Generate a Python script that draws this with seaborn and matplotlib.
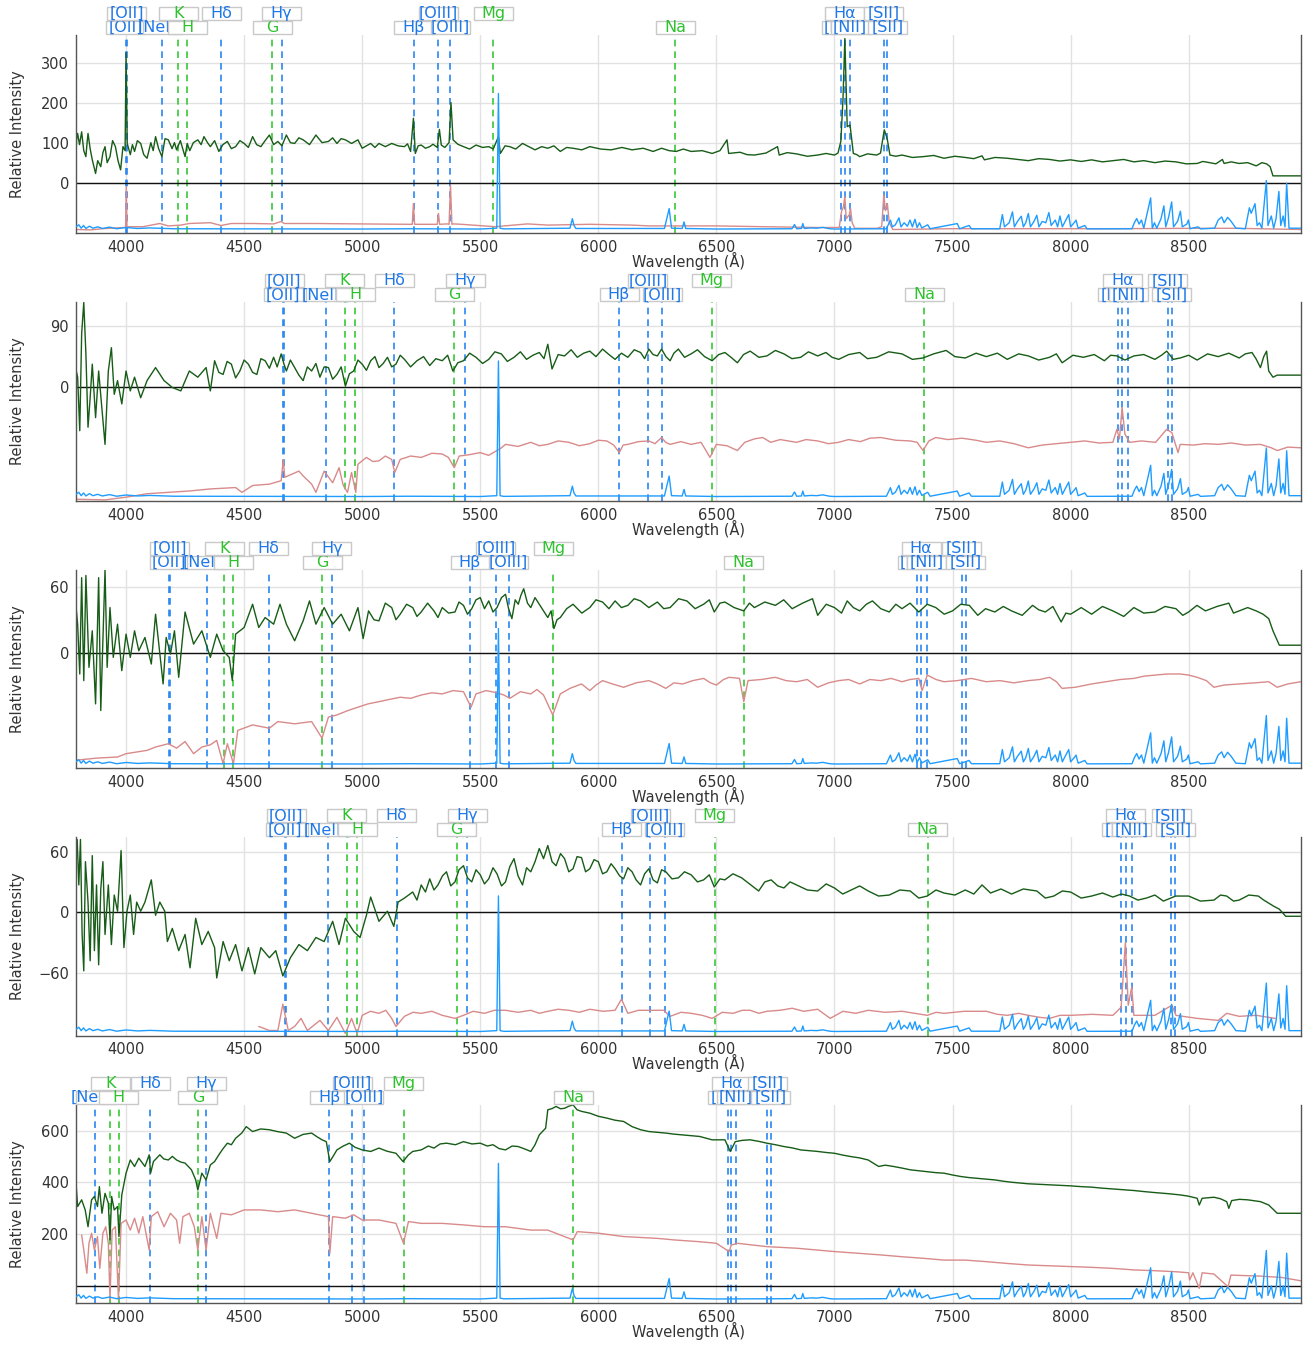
import numpy as np
import pandas as pd
import matplotlib
matplotlib.use("Agg")
import matplotlib.pyplot as plt
import matplotlib.transforms as mtransforms
from matplotlib.patches import Rectangle
import seaborn as sns

# --- line list (rest wavelength, label, emission/absorption, label row 0=low 1=high)
LINE_NAMES = ["[OII]", "[OII]", "[NeIII]", "K", "H", "Hδ", "G", "Hγ", "Hβ", "[OIII]", "[OIII]",
              "Mg", "Na", "[NII]", "Hα", "[NII]", "[SII]", "[SII]"]
LINE_REST = [3726.03, 3728.82, 3868.76, 3933.66, 3968.47, 4101.74, 4304.4, 4340.47, 4861.33,
             4958.91, 5006.84, 5175.3, 5894.0, 6548.05, 6562.8, 6583.45, 6716.44, 6730.82]
LINE_KIND = ["em", "em", "em", "abs", "abs", "em", "abs", "em", "em", "em", "em",
             "abs", "abs", "em", "em", "em", "em", "em"]
LINE_ROW = [0, 1, 0, 1, 0, 1, 0, 1, 0, 1, 0, 1, 0, 0, 1, 0, 1, 0]

REDSHIFTS = [0.0733, 0.2523, 0.1225, 0.2545, 0.0]
YLIMS = [(-126, 369), (-165, 124), (-104, 75), (-122, 74), (-67, 699)]
YTICKS = [[0, 100, 200, 300], [0, 90], [0, 60], [-60, 0, 60], [200, 400, 600]]
XTICKS = [4000, 4500, 5000, 5500, 6000, 6500, 7000, 7500, 8000, 8500]

P1_GREEN = [(3786,48),(3791,110),(3795,123),(3803,95),(3812,127),(3821,80),(3830,65),(3835,100),(3839,123),
    (3848,85),(3857,57),(3864,40),(3871,23),(3880,55),(3893,40),(3902,75),(3911,90),(3920,50),(3932,65),
    (3943,105),(3955,90),(3966,55),(3977,32),(3987,90),(3996,80),(4000,325),(4005,98),(4018,70),(4027,95),
    (4036,78),(4048,105),(4062,98),(4075,70),(4089,61),(4105,100),(4115,80),(4125,115),(4138,85),(4152,65),
    (4165,110),(4179,107),(4195,85),(4205,100),(4214,82),(4230,105),(4250,65),(4259,98),(4270,80),(4285,100),
    (4304,107),(4318,95),(4330,115),(4345,100),(4357,90),(4375,105),(4393,78),(4410,95),(4429,103),(4446,85),
    (4464,90),(4482,105),(4500,98),(4518,88),(4536,115),(4553,95),(4571,90),(4589,105),(4607,119),(4625,95),
    (4643,103),(4660,92),(4679,119),(4696,100),(4714,98),(4732,112),(4750,107),(4777,95),(4804,119),
    (4830,100),(4857,103),(4875,112),(4893,98),(4911,110),(4929,107),(4955,98),(4982,107),(5000,86),
    (5018,92),(5036,98),(5054,88),(5071,98),(5098,90),(5125,98),(5152,92),(5179,90),(5192,97),(5205,78),
    (5217,161),(5225,73),(5237,92),(5250,94),(5268,86),(5286,90),(5300,96),(5318,88),(5327,133),(5335,94),
    (5350,88),(5368,100),(5376,200),(5385,107),(5405,96),(5429,90),(5455,84),(5482,94),(5510,88),(5536,90),
    (5555,84),(5577,115),(5585,73),(5605,92),(5625,90),(5650,84),(5679,98),(5705,90),(5732,82),(5760,90),
    (5786,86),(5812,92),(5839,78),(5866,88),(5893,86),(5930,82),(5964,90),(6010,84),(6054,82),(6100,88),
    (6143,82),(6190,86),(6232,78),(6268,86),(6300,80),(6330,78),(6360,84),(6393,78),(6440,80),(6482,73),
    (6515,80),(6545,107),(6552,73),(6600,76),(6630,70),(6661,69),(6710,74),(6759,90),(6766,69),(6800,75),
    (6839,72),(6885,66),(6929,69),(6965,73),(7000,69),(7015,74),(7027,103),(7036,207),(7044,360),(7054,140),
    (7066,144),(7080,73),(7095,70),(7107,65),(7140,72),(7179,69),(7195,74),(7211,132),(7223,111),(7235,69),
    (7260,66),(7286,69),(7330,63),(7375,65),(7420,68),(7464,61),(7510,66),(7554,63),(7590,60),(7625,67),
    (7635,57),(7680,63),(7732,61),(7775,58),(7821,55),(7865,60),(7911,58),(7955,54),(8000,57),(8045,53),
    (8089,57),(8135,52),(8179,55),(8225,58),(8268,52),(8310,55),(8357,50),(8400,54),(8446,52),(8490,47),
    (8536,48),(8560,53),(8589,50),(8615,47),(8643,58),(8650,48),(8680,52),(8714,48),(8750,50),(8786,42),
    (8810,50),(8830,47),(8845,40),(8857,17),(8975,17)]
P1_RED = [(3786,-117),(3850,-118),(3900,-115),(3990,-112),(3998,-112),(4001,-10),(4004,-112),(4010,-110),
    (4071,-110),(4143,-102),(4179,-108),(4232,-106),(4268,-102),(4357,-100),(4402,-107),(4446,-102),
    (4536,-102),(4625,-103),(4657,-97),(4670,-102),(4800,-102),(4982,-103),(5200,-104),(5212,-104),
    (5217,-52),(5222,-104),(5240,-104),(5318,-104),(5323,-77),(5328,-104),(5360,-103),(5368,-104),
    (5374,-6),(5380,-104),(5386,-103),(5420,-104),(5563,-110),(5700,-103),(5786,-106),(5964,-104),
    (6143,-106),(6214,-108),(6500,-108),(6700,-110),(6929,-112),(7020,-112),(7030,-72),(7038,-60),
    (7044,-35),(7050,-90),(7063,-80),(7068,-64),(7075,-100),(7086,-114),(7180,-114),(7200,-110),
    (7209,-31),(7216,-70),(7224,-52),(7232,-100),(7247,-117),(7500,-115),(7800,-115),(8179,-115),
    (8536,-114),(8700,-114),(8975,-117)]

P2_GREEN = [(3786,29),(3795,15),(3804,-63),(3812,78),(3821,124),(3830,49),(3839,-58),(3848,-15),(3857,34),
    (3871,-44),(3884,24),(3896,-24),(3911,-83),(3925,24),(3938,58),(3950,-10),(3964,10),(3982,-24),(4000,24),
    (4018,-5),(4036,15),(4062,-15),(4089,10),(4125,29),(4161,10),(4196,0),(4232,-5),(4268,24),(4304,15),
    (4339,29),(4357,-5),(4375,39),(4393,22),(4411,19),(4428,38),(4446,34),(4464,14),(4482,24),(4500,40),
    (4518,34),(4536,22),(4554,19),(4571,42),(4589,39),(4607,28),(4625,44),(4640,30),(4657,49),(4668,35),
    (4679,24),(4696,40),(4714,29),(4732,18),(4750,10),(4768,30),(4786,24),(4804,35),(4821,15),(4839,30),
    (4857,29),(4875,12),(4893,19),(4911,30),(4929,2),(4946,20),(4964,24),(4982,40),(5000,34),(5018,25),
    (5036,39),(5054,45),(5071,29),(5089,35),(5107,44),(5125,30),(5143,34),(5161,47),(5179,41),(5205,30),
    (5232,39),(5260,45),(5286,32),(5312,42),(5339,39),(5362,47),(5384,24),(5405,36),(5429,39),(5455,50),
    (5482,44),(5510,35),(5536,41),(5562,52),(5589,49),(5615,38),(5643,44),(5670,52),(5696,41),(5723,47),
    (5750,51),(5770,42),(5786,63),(5804,27),(5830,48),(5857,46),(5885,55),(5911,44),(5938,50),(5964,53),
    (5990,45),(6018,56),(6045,48),(6071,41),(6098,50),(6125,44),(6152,55),(6179,51),(6196,42),(6214,56),
    (6232,48),(6250,46),(6268,56),(6286,45),(6304,39),(6320,50),(6339,56),(6365,44),(6393,49),(6420,55),
    (6450,45),(6482,39),(6510,48),(6536,51),(6562,44),(6589,36),(6615,48),(6643,53),(6680,44),(6714,46),
    (6750,54),(6786,49),(6820,42),(6857,44),(6890,52),(6929,46),(6964,51),(6990,44),(7018,41),(7060,48),
    (7107,51),(7140,42),(7179,44),(7230,52),(7286,49),(7330,41),(7375,43),(7420,49),(7473,54),(7510,45),
    (7554,43),(7600,50),(7643,45),(7690,50),(7732,41),(7780,49),(7821,46),(7865,40),(7911,44),(7940,49),
    (7964,36),(8010,47),(8054,44),(8100,48),(8143,39),(8170,47),(8196,46),(8230,40),(8268,46),(8310,48),
    (8357,41),(8385,47),(8407,53),(8435,41),(8464,43),(8500,47),(8536,40),(8580,49),(8625,45),(8670,50),
    (8714,43),(8740,49),(8768,51),(8785,42),(8804,29),(8818,45),(8830,53),(8839,24),(8857,15),(8875,18),
    (8975,18)]
P2_RED = [(3786,-163),(3911,-164),(4000,-160),(4089,-155),(4179,-153),(4268,-151),(4357,-148),(4464,-146),
    (4491,-153),(4536,-143),(4607,-141),(4657,-136),(4666,-105),(4672,-131),(4732,-122),(4750,-129),
    (4786,-141),(4804,-153),(4839,-122),(4875,-139),(4902,-117),(4920,-143),(4938,-153),(4955,-124),
    (4973,-153),(4982,-112),(5018,-102),(5045,-108),(5071,-107),(5098,-100),(5125,-105),(5138,-124),
    (5161,-105),(5205,-100),(5250,-102),(5295,-96),(5339,-97),(5365,-102),(5390,-117),(5411,-100),
    (5455,-98),(5500,-95),(5535,-99),(5571,-92),(5590,-88),(5607,-83),(5660,-86),(5714,-80),(5750,-85),
    (5786,-83),(5830,-78),(5875,-80),(5920,-85),(5964,-82),(6000,-77),(6036,-78),(6065,-84),(6089,-95),
    (6105,-84),(6125,-83),(6170,-79),(6214,-78),(6240,-82),(6268,-73),(6285,-80),(6304,-83),(6350,-79),
    (6393,-83),(6435,-80),(6473,-102),(6500,-83),(6545,-85),(6589,-92),(6620,-80),(6661,-75),(6696,-73),
    (6730,-80),(6770,-76),(6839,-80),(6880,-76),(6929,-78),(6975,-82),(7018,-80),(7060,-76),(7110,-79),
    (7150,-74),(7196,-73),(7260,-77),(7321,-78),(7350,-80),(7375,-92),(7400,-78),(7429,-73),(7480,-76),
    (7540,-74),(7600,-77),(7643,-80),(7700,-78),(7760,-82),(7821,-88),(7880,-84),(7940,-82),(8000,-80),
    (8060,-78),(8120,-81),(8179,-80),(8196,-61),(8207,-75),(8218,-29),(8230,-68),(8250,-80),(8300,-78),
    (8360,-80),(8407,-61),(8429,-66),(8455,-95),(8464,-83),(8520,-84),(8570,-82),(8625,-83),(8680,-81),
    (8740,-84),(8804,-83),(8850,-88),(8875,-92),(8920,-87),(8975,-88)]

P3_GREEN = [(3786,47),(3795,26),(3804,-19),(3812,68),(3821,-25),(3830,70),(3843,-13),(3857,20),(3871,-46),
    (3884,68),(3893,-52),(3911,75),(3920,-13),(3932,41),(3946,-4),(3964,26),(3982,-16),(4000,17),(4018,-4),
    (4036,20),(4054,2),(4080,14),(4107,-10),(4125,35),(4157,-28),(4170,14),(4188,-1),(4205,20),(4223,-22),
    (4250,37),(4286,8),(4321,20),(4357,-4),(4384,17),(4411,2),(4437,-4),(4450,-25),(4464,17),(4500,23),
    (4536,44),(4562,23),(4589,32),(4625,26),(4652,44),(4679,26),(4714,11),(4750,29),(4777,47),(4804,26),
    (4839,41),(4875,26),(4911,35),(4946,20),(4982,41),(5004,13),(5027,38),(5050,30),(5071,29),(5098,45),
    (5125,41),(5143,30),(5161,35),(5188,44),(5214,41),(5232,33),(5250,37),(5277,45),(5304,38),(5321,32),
    (5339,41),(5366,36),(5393,37),(5410,46),(5429,43),(5446,35),(5464,40),(5482,48),(5500,50),(5518,40),
    (5536,47),(5554,37),(5571,41),(5590,50),(5607,53),(5620,40),(5634,31),(5648,48),(5661,44),(5672,52),
    (5684,58),(5700,45),(5714,41),(5732,50),(5750,44),(5768,38),(5786,32),(5800,38),(5812,22),(5825,30),
    (5839,32),(5866,40),(5893,44),(5930,36),(5964,41),(5990,48),(6018,46),(6045,40),(6071,47),(6098,41),
    (6125,43),(6152,49),(6179,47),(6214,41),(6250,46),(6277,40),(6304,41),(6340,49),(6375,47),(6410,40),
    (6446,44),(6470,48),(6491,37),(6515,45),(6536,46),(6575,41),(6616,38),(6640,45),(6661,41),(6705,46),
    (6750,43),(6785,48),(6821,40),(6865,45),(6907,49),(6929,34),(6965,44),(7000,41),(7030,36),(7054,47),
    (7080,41),(7107,38),(7135,44),(7161,47),(7196,40),(7232,37),(7260,44),(7286,40),(7320,45),(7357,37),
    (7393,44),(7429,41),(7465,35),(7500,38),(7535,44),(7571,43),(7607,34),(7640,40),(7679,37),(7715,42),
    (7750,38),(7795,34),(7839,43),(7865,39),(7893,37),(7925,42),(7960,28),(7980,36),(8000,35),(8045,41),
    (8089,35),(8135,42),(8179,38),(8225,33),(8268,41),(8310,36),(8357,37),(8400,42),(8446,40),(8475,34),
    (8500,37),(8535,43),(8571,38),(8620,42),(8670,45),(8690,36),(8714,38),(8750,41),(8786,38),(8815,35),
    (8839,31),(8857,20),(8884,7),(8975,7)]
P3_RED = [(3786,-97),(3875,-95),(3964,-94),(4000,-91),(4089,-88),(4125,-85),(4179,-82),(4214,-86),(4250,-80),
    (4286,-91),(4321,-85),(4357,-83),(4384,-79),(4411,-100),(4429,-82),(4455,-100),(4473,-70),(4536,-65),
    (4607,-68),(4643,-62),(4714,-64),(4786,-62),(4830,-77),(4857,-58),(4893,-56),(4940,-52),(4982,-49),
    (5025,-46),(5071,-44),(5115,-42),(5161,-40),(5205,-41),(5250,-38),(5295,-36),(5339,-37),(5385,-34),
    (5429,-35),(5461,-49),(5482,-37),(5525,-34),(5571,-36),(5600,-38),(5625,-41),(5670,-35),(5714,-37),
    (5740,-33),(5768,-38),(5807,-56),(5839,-37),(5880,-32),(5929,-28),(5964,-34),(5990,-29),(6018,-25),
    (6060,-28),(6107,-31),(6160,-27),(6214,-25),(6250,-28),(6286,-32),(6320,-27),(6357,-28),(6400,-25),
    (6446,-23),(6475,-27),(6500,-29),(6530,-24),(6554,-22),(6598,-23),(6616,-44),(6634,-25),(6690,-24),
    (6750,-22),(6795,-25),(6839,-26),(6885,-24),(6929,-31),(6975,-27),(7018,-25),(7060,-24),(7107,-28),
    (7150,-24),(7196,-25),(7240,-23),(7286,-26),(7320,-24),(7357,-23),(7371,-34),(7393,-20),(7430,-24),
    (7464,-26),(7520,-25),(7580,-23),(7643,-26),(7700,-25),(7760,-27),(7821,-25),(7870,-24),(7911,-22),
    (7940,-26),(7964,-32),(8020,-31),(8089,-28),(8150,-26),(8210,-24),(8268,-23),(8310,-21),(8357,-20),
    (8410,-19),(8464,-19),(8500,-20),(8536,-22),(8575,-25),(8607,-31),(8650,-29),(8714,-28),(8780,-27),
    (8839,-26),(8875,-31),(8920,-28),(8975,-26)]

P4_GREEN = [(3786,66),(3793,72),(3800,27),(3807,72),(3814,-22),(3821,-58),(3828,50),(3839,10),(3848,-48),
    (3857,56),(3866,-38),(3875,27),(3884,-52),(3893,23),(3902,50),(3911,-22),(3925,27),(3938,-32),(3950,17),
    (3964,1),(3979,61),(3991,-35),(4004,1),(4018,17),(4032,-22),(4045,10),(4062,1),(4080,10),(4107,32),
    (4125,-3),(4143,10),(4164,1),(4175,-29),(4196,-16),(4223,-38),(4250,-22),(4271,-55),(4295,-6),(4321,-32),
    (4348,-19),(4375,-35),(4384,-65),(4411,-29),(4437,-48),(4464,-32),(4491,-58),(4518,-35),(4545,-61),
    (4571,-35),(4607,-45),(4634,-38),(4664,-63),(4696,-45),(4732,-32),(4768,-38),(4804,-25),(4839,-29),
    (4875,-9),(4902,-32),(4929,-6),(4964,-19),(4991,-25),(5018,-3),(5036,15),(5071,-9),(5107,1),(5134,-14),
    (5152,10),(5179,14),(5214,20),(5232,12),(5250,27),(5268,20),(5286,33),(5304,22),(5321,27),(5340,36),
    (5357,40),(5375,26),(5393,30),(5410,42),(5429,46),(5446,34),(5464,30),(5482,42),(5500,37),(5518,28),
    (5536,33),(5554,44),(5571,38),(5590,26),(5607,30),(5625,45),(5643,53),(5660,36),(5679,27),(5696,44),
    (5714,40),(5732,50),(5750,63),(5768,53),(5786,66),(5804,50),(5821,46),(5840,58),(5857,53),(5875,40),
    (5893,43),(5910,55),(5929,54),(5946,40),(5964,43),(5982,52),(6000,50),(6018,38),(6036,40),(6054,48),
    (6071,43),(6090,36),(6107,33),(6125,44),(6143,40),(6160,32),(6179,27),(6196,38),(6214,43),(6232,32),
    (6250,29),(6268,42),(6286,40),(6312,33),(6339,34),(6365,40),(6393,37),(6420,30),(6446,32),(6470,37),
    (6491,25),(6515,33),(6536,32),(6570,38),(6607,34),(6640,28),(6679,21),(6705,30),(6732,32),(6760,26),
    (6786,24),(6812,30),(6839,27),(6885,22),(6929,21),(6965,28),(7000,24),(7035,18),(7071,22),(7107,26),
    (7143,21),(7187,16),(7232,17),(7277,22),(7321,21),(7357,14),(7393,16),(7430,22),(7464,19),(7510,17),
    (7554,22),(7590,18),(7625,27),(7661,19),(7705,23),(7750,18),(7800,23),(7857,21),(7893,14),(7929,16),
    (7965,21),(8000,20),(8045,14),(8089,16),(8135,19),(8179,15),(8215,18),(8250,16),(8285,12),(8321,14),
    (8357,17),(8393,11),(8445,16),(8500,16),(8550,11),(8607,12),(8635,17),(8661,16),(8690,11),(8714,12),
    (8755,17),(8795,16),(8818,12),(8839,9),(8860,6),(8884,3),(8911,-4),(8975,-4)]
P4_RED = [(4562,-113),(4607,-117),(4643,-117),(4664,-91),(4687,-117),(4714,-113),(4741,-105),(4768,-117),
    (4821,-107),(4857,-117),(4893,-104),(4929,-120),(4955,-105),(4979,-120),(5000,-102),(5035,-98),
    (5071,-100),(5100,-97),(5125,-105),(5143,-113),(5179,-103),(5215,-99),(5250,-100),(5295,-98),
    (5339,-102),(5393,-105),(5429,-102),(5470,-98),(5518,-100),(5560,-97),(5607,-97),(5660,-99),(5714,-97),
    (5750,-100),(5786,-98),(5830,-96),(5875,-97),(5920,-99),(5964,-96),(6020,-98),(6071,-97),(6098,-86),
    (6125,-100),(6170,-97),(6214,-97),(6277,-97),(6304,-103),(6350,-99),(6393,-100),(6440,-102),
    (6482,-105),(6525,-99),(6571,-100),(6610,-97),(6643,-97),(6680,-100),(6714,-98),(6770,-97),(6821,-95),
    (6870,-98),(6929,-96),(6982,-105),(7036,-98),(7090,-100),(7143,-97),(7215,-99),(7286,-98),(7340,-100),
    (7393,-102),(7430,-99),(7464,-100),(7550,-98),(7643,-98),(7690,-101),(7732,-102),(7780,-100),
    (7821,-102),(7870,-104),(7911,-105),(7955,-102),(8000,-102),(8090,-101),(8179,-102),(8214,-94),
    (8232,-30),(8244,-92),(8259,-74),(8268,-102),(8357,-102),(8429,-92),(8446,-102),(8536,-105),
    (8625,-107),(8661,-100),(8714,-103),(8786,-102),(8866,-105)]

P5_GREEN = [(3786,428),(3795,306),(3812,332),(3827,293),(3839,228),(3854,332),(3866,345),(3879,306),
    (3887,383),(3898,280),(3911,357),(3925,319),(3932,177),(3939,345),(3950,293),(3964,306),(3970,190),
    (3982,351),(4000,435),(4018,486),(4036,461),(4054,493),(4080,461),(4098,506),(4104,435),(4116,480),
    (4143,506),(4160,490),(4179,486),(4196,500),(4214,486),(4232,478),(4250,474),(4277,448),(4295,409),
    (4304,370),(4321,435),(4339,409),(4357,467),(4375,480),(4393,506),(4411,530),(4429,551),(4446,545),
    (4464,570),(4490,590),(4509,615),(4536,596),(4570,606),(4607,603),(4640,596),(4679,590),(4714,570),
    (4750,585),(4786,590),(4810,575),(4830,564),(4848,557),(4863,480),(4880,505),(4893,525),(4920,540),
    (4946,551),(4970,535),(5000,525),(5036,519),(5071,532),(5105,520),(5143,512),(5173,480),(5195,505),
    (5214,519),(5250,525),(5280,540),(5304,532),(5330,548),(5357,551),(5395,545),(5429,557),(5465,548),
    (5500,551),(5530,540),(5554,545),(5580,530),(5607,525),(5635,540),(5661,538),(5690,528),(5714,519),
    (5732,545),(5750,583),(5777,609),(5786,680),(5805,685),(5821,693),(5840,684),(5857,686),(5875,694),
    (5893,699),(5910,680),(5929,674),(5964,667),(6000,655),(6036,648),(6070,640),(6107,635),(6143,615),
    (6179,603),(6214,596),(6250,593),(6286,590),(6320,586),(6357,583),(6390,580),(6429,577),(6482,564),
    (6536,564),(6559,519),(6580,557),(6610,562),(6643,564),(6680,558),(6714,551),(6750,545),(6786,538),
    (6820,533),(6857,525),(6895,522),(6929,519),(6965,515),(7000,512),(7035,505),(7071,499),(7107,494),
    (7143,486),(7187,461),(7215,466),(7250,461),(7290,454),(7321,448),(7360,444),(7393,441),(7430,437),
    (7464,435),(7500,428),(7536,422),(7570,418),(7607,415),(7640,412),(7679,409),(7715,404),(7750,400),
    (7785,397),(7821,394),(7870,392),(7911,390),(7955,388),(8000,386),(8045,383),(8089,381),(8135,377),
    (8179,374),(8225,371),(8268,368),(8310,364),(8357,360),(8410,356),(8464,351),(8500,346),(8536,338),
    (8545,312),(8557,338),(8607,342),(8635,336),(8661,325),(8670,299),(8682,329),(8715,334),(8750,332),
    (8780,328),(8804,325),(8839,312),(8875,280),(8975,280)]
P5_RED = [(3812,196),(3821,138),(3834,48),(3843,164),(3854,203),(3866,138),(3879,190),(3889,67),(3902,203),
    (3914,228),(3925,164),(3932,-55),(3941,215),(3955,228),(3968,-55),(3979,241),(4000,254),(4018,215),
    (4036,261),(4054,203),(4071,267),(4098,138),(4107,267),(4134,286),(4161,228),(4188,280),(4214,254),
    (4227,164),(4241,267),(4268,280),(4289,228),(4304,138),(4321,267),(4339,138),(4357,280),(4384,183),
    (4402,280),(4446,274),(4500,293),(4571,293),(4643,286),(4714,293),(4786,280),(4857,267),(4863,125),
    (4875,267),(4929,261),(4964,274),(5000,254),(5071,254),(5143,241),(5175,164),(5196,248),(5250,241),
    (5339,241),(5429,235),(5518,228),(5607,228),(5714,215),(5786,215),(5893,177),(5911,209),(6000,203),
    (6107,190),(6250,183),(6321,177),(6429,170),(6500,164),(6554,132),(6563,157),(6589,164),(6714,151),
    (6839,145),(7000,132),(7107,125),(7196,119),(7286,112),(7375,106),(7464,99),(7554,99),(7643,93),
    (7732,86),(7821,80),(8000,74),(8089,71),(8179,67),(8268,61),(8357,58),(8446,54),(8500,50),(8504,22),
    (8518,50),(8545,-10),(8557,50),(8607,45),(8667,-4),(8679,41),(8804,37),(8893,32),(8975,19)]

# sky spectrum (same observed frame in every panel), normalised to the 5577 line
SKY = [(3788,0.02),(3800,0.035),(3810,0.01),(3820,0.03),(3830,0.008),(3845,0.025),(3860,0.01),(3880,0.02),
    (3900,0.008),(3930,0.018),(3960,0.006),(4000,0.015),(4050,0.008),(4100,0.012),(4200,0.006),(4500,0.005),
    (5000,0.004),(5200,0.006),(5500,0.004),(5570,0.01),(5577,1.0),(5584,0.01),(5600,0.005),(5880,0.01),
    (5890,0.08),(5897,0.03),(5905,0.008),(6280,0.008),(6300,0.154),(6310,0.01),(6355,0.008),(6363,0.056),
    (6370,0.008),(6500,0.004),(6820,0.006),(6831,0.037),(6840,0.006),(6860,0.008),(6866,0.044),(6872,0.008),
    (6900,0.012),(6925,0.01),(6950,0.016),(6980,0.006),(7000,0.004),(7220,0.006),(7237,0.069),(7245,0.02),
    (7258,0.035),(7273,0.086),(7282,0.02),(7295,0.05),(7309,0.025),(7320,0.07),(7330,0.02),(7341,0.076),
    (7350,0.015),(7360,0.05),(7370,0.012),(7395,0.035),(7405,0.006),(7520,0.044),(7530,0.006),(7570,0.03),
    (7580,0.006),(7700,0.006),(7711,0.11),(7720,0.02),(7740,0.05),(7754,0.13),(7762,0.02),(7775,0.06),
    (7791,0.098),(7800,0.02),(7810,0.05),(7821,0.118),(7830,0.02),(7845,0.06),(7857,0.105),(7866,0.02),
    (7880,0.06),(7895,0.05),(7908,0.125),(7918,0.03),(7935,0.07),(7945,0.02),(7955,0.1),(7965,0.02),
    (7980,0.07),(7992,0.11),(8000,0.02),(8015,0.05),(8023,0.069),(8032,0.01),(8060,0.03),(8070,0.005),
    (8260,0.006),(8270,0.05),(8280,0.081),(8290,0.04),(8300,0.07),(8310,0.01),(8339,0.233),(8346,0.01),
    (8355,0.05),(8365,0.01),(8383,0.08),(8395,0.174),(8403,0.02),(8415,0.09),(8428,0.203),(8436,0.02),
    (8453,0.06),(8465,0.135),(8473,0.02),(8492,0.04),(8499,0.07),(8506,0.006),(8540,0.02),(8550,0.005),
    (8610,0.01),(8625,0.07),(8640,0.093),(8650,0.05),(8665,0.09),(8680,0.06),(8700,0.01),(8740,0.006),
    (8757,0.16),(8765,0.12),(8781,0.19),(8790,0.03),(8800,0.05),(8810,0.01),(8829,0.36),(8836,0.03),
    (8850,0.1),(8860,0.01),(8870,0.08),(8882,0.28),(8890,0.03),(8900,0.1),(8908,0.02),(8915,0.34),
    (8925,0.01),(8975,0.01)]

GREENS = [P1_GREEN, P2_GREEN, P3_GREEN, P4_GREEN, P5_GREEN]
REDS = [P1_RED, P2_RED, P3_RED, P4_RED, P5_RED]

# colours
C_SPEC = "#175c17"
C_MODEL = "#d98a8a"
C_SKY = "#1e9cff"
C_EM_TXT = "#1f78e8"
C_EM_LINE = "#2a86f2"
C_ABS_TXT = "#2fc22f"
C_ABS_LINE = "#38c838"

XLIM = (3788, 8975)

sns.set_theme(style="white")
plt.rcParams["font.family"] = ["DejaVu Sans"]

fig, axes = plt.subplots(5, 1, figsize=(13.1, 13.45), dpi=100)
fig.subplots_adjust(left=0.058, right=0.993, top=0.974, bottom=0.0312, hspace=0.35)

ax_w_px = 0.935 * 1310
half_w = 19.5 * (XLIM[1] - XLIM[0]) / ax_w_px   # label box half width in Angstrom
box_h = 13 / 198.0
row_y = [1.0051, 1.0758]

sky = pd.DataFrame(SKY, columns=["wl", "flux"])

for i, ax in enumerate(axes):
    z = REDSHIFTS[i]
    green = pd.DataFrame(GREENS[i], columns=["wl", "flux"])
    red = pd.DataFrame(REDS[i], columns=["wl", "flux"])

    ax.set_xlim(*XLIM)
    ax.set_ylim(*YLIMS[i])
    ax.set_xticks(XTICKS)
    ax.set_yticks(YTICKS[i])
    ax.grid(True, color="#e2e2e2", lw=1)
    ax.set_axisbelow(True)
    ax.axhline(0, color="#111111", lw=1, zorder=1.9)

    trans = mtransforms.blended_transform_factory(ax.transData, ax.transAxes)
    for j, name in enumerate(LINE_NAMES):
        lam = LINE_REST[j] * (1 + z)
        if not (XLIM[0] < lam < XLIM[1]):
            continue
        em = LINE_KIND[j] == "em"
        ax.axvline(lam, color=C_EM_LINE if em else C_ABS_LINE, ls=(0, (4, 3)), lw=1.2, zorder=1.8)
        y0 = row_y[LINE_ROW[j]]
        ax.add_patch(Rectangle((lam - half_w, y0), 2 * half_w, box_h, transform=trans,
                               facecolor="white", edgecolor="#c9c9c9", lw=1,
                               clip_on=False, zorder=10 + 2 * j))
        ax.text(lam, y0 + box_h / 2, name, transform=trans, ha="center", va="center",
                fontsize=11.5, color=C_EM_TXT if em else C_ABS_TXT, clip_on=False,
                zorder=11 + 2 * j)

    sns.lineplot(data=red, x="wl", y="flux", ax=ax, color=C_MODEL, lw=1,
                 estimator=None, sort=False, zorder=2.2)
    sns.lineplot(data=green, x="wl", y="flux", ax=ax, color=C_SPEC, lw=1,
                 estimator=None, sort=False, zorder=2.4)

    # sky on its own normalised scale
    ax_sky = ax.twinx()
    ax_sky.set_ylim(-0.026, 1.43)
    sns.lineplot(data=sky, x="wl", y="flux", ax=ax_sky, color=C_SKY, lw=1,
                 estimator=None, sort=False)
    ax_sky.axis("off")

    for side in ["left", "bottom", "right"]:
        ax.spines[side].set_color("#555555")
        ax.spines[side].set_linewidth(1)
    ax.spines["top"].set_visible(False)
    ax.tick_params(length=0, labelsize=10.5, colors="#333333", pad=5)

    ax.set_xlabel("Wavelength (Å)", fontsize=10.5, color="#333333")
    ax.xaxis.label.set_va("center")
    ax.xaxis.set_label_coords(0.5, -0.141)
    ax.set_ylabel("Relative Intensity", fontsize=10.5, color="#333333")
    ax.yaxis.label.set_va("center")
    ax.yaxis.set_label_coords(-0.048, 0.5)

fig.savefig("out.png", dpi=100)
